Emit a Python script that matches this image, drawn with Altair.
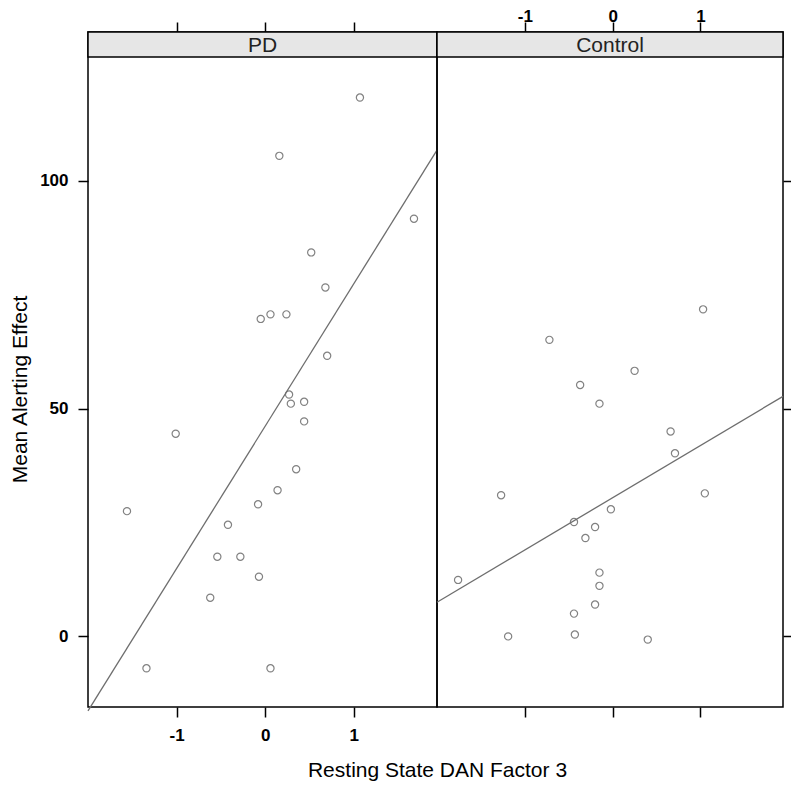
import altair as alt
import pandas as pd

# ---- data ----
pd_x = [1.07, 0.16, 1.68, 0.52, 0.68, -0.05, 0.06, 0.24, 0.70, 0.27, 0.29, 0.44, 0.44,
        -1.01, 0.35, -1.56, 0.14, -0.08, -0.42, -0.54, -0.28, -0.07, -0.62, -1.34, 0.06]
pd_y = [118.3, 105.5, 91.7, 84.3, 76.6, 69.7, 70.7, 70.7, 61.6, 53.1, 51.1, 51.5, 47.2,
        44.5, 36.7, 27.5, 32.1, 29.0, 24.5, 17.5, 17.5, 13.1, 8.5, -7.0, -7.0]

ctrl_x = [1.03, -0.72, 0.25, -0.37, -0.15, 0.66, 0.71, -1.27, 1.05, -0.02, -0.44,
          -0.20, -0.31, -1.76, -0.15, -0.15, -0.20, -0.44, -1.19, -0.43, 0.40]
ctrl_y = [71.8, 65.1, 58.3, 55.2, 51.1, 45.0, 40.2, 31.0, 31.4, 27.9, 25.1,
          24.0, 21.6, 12.4, 14.0, 11.1, 7.0, 5.0, 0.0, 0.4, -0.7]

panels = ["PD", "Control"]
x_ticks = [-1, 0, 1]
y_ticks = [0, 50, 100]
x_title = "Resting State DAN Factor 3"
y_title = "Mean Alerting Effect"

X_DOMAIN = [-2.0, 1.94]
Y_LOW, Y_HIGH = -15.5, 127.2

FONT = "Liberation Sans"
STRIP_H = 25
PANEL_H = 650
PLOT_H = PANEL_H + STRIP_H  # strip sits inside the top of each cell
PANEL_W = [349, 346]
# extend the y domain upward so that the strip band sits above the data area
Y_TOP = Y_HIGH + (Y_HIGH - Y_LOW) * STRIP_H / PANEL_H

df_pd = pd.DataFrame({"x": pd_x, "y": pd_y})
df_ctrl = pd.DataFrame({"x": ctrl_x, "y": ctrl_y})

xscale = alt.Scale(domain=X_DOMAIN, nice=False, zero=False)
yscale = alt.Scale(domain=[Y_LOW, Y_TOP], nice=False, zero=False)

tick_common = dict(grid=False, domain=False, tickColor="black", tickWidth=1.5,
                   tickSize=10, labelFont=FONT, labelFontSize=17,
                   labelFontWeight="bold", labelColor="black",
                   labelExpr="'' + datum.value")


def x_axis(orient, labels, **kw):
    return alt.Axis(orient=orient, values=x_ticks, labels=labels,
                    labelPadding=-3 if orient == "top" else 10, **tick_common, **kw)


def y_axis(orient, labels, **kw):
    return alt.Axis(orient=orient, values=y_ticks, labels=labels,
                    labelPadding=10, **tick_common, **kw)


def panel(df, name, w, first):
    if first:
        xa_pts = x_axis("bottom", True, title=x_title, titleX=w, titleY=63,
                        titleAlign="center", titleBaseline="middle",
                        titleFont=FONT, titleFontSize=21, titleFontWeight="normal",
                        titleColor="black")
        ya = y_axis("left", True, title=y_title, titleX=-68, titleY=357,
                    titleAngle=270, titleAlign="center", titleBaseline="middle",
                    titleFont=FONT, titleFontSize=21, titleFontWeight="normal",
                    titleColor="black")
        xa_line = x_axis("top", False, title=None)
    else:
        xa_pts = x_axis("top", True, title=None)
        ya = y_axis("right", False, title=None)
        xa_line = x_axis("bottom", False, title=None)

    base = alt.Chart(df)
    pts = base.mark_point(shape="circle", filled=False, size=52, color="#4d4d4d",
                          strokeWidth=1.2).encode(
        x=alt.X("x:Q", scale=xscale, axis=xa_pts),
        y=alt.Y("y:Q", scale=yscale, axis=ya),
    )
    line = base.transform_regression("x", "y", extent=X_DOMAIN).mark_line(
        color="#6e6e6e", strokeWidth=1.3).encode(
        x=alt.X("x:Q", scale=xscale, axis=xa_line),
        y=alt.Y("y:Q", scale=yscale, axis=ya),
    )
    strip_data = alt.Data(values=[{"label": name}])
    strip = alt.Chart(strip_data).mark_rect(fill="#e6e6e6", stroke="black",
                                            strokeWidth=1.5).encode(
        x=alt.value(0), x2=alt.value(w), y=alt.value(0), y2=alt.value(STRIP_H))
    strip_txt = alt.Chart(strip_data).mark_text(font=FONT, fontSize=21,
                                                color="#222222", baseline="middle",
                                                align="center").encode(
        x=alt.value(w / 2), y=alt.value(STRIP_H / 2 + 1), text="label:N")
    return alt.layer(pts, line, strip, strip_txt).properties(width=w, height=PLOT_H)


chart = alt.hconcat(
    panel(df_pd, panels[0], PANEL_W[0], True),
    panel(df_ctrl, panels[1], PANEL_W[1], False),
    spacing=0,
    bounds="flush",
).properties(
    padding={"left": 0, "top": -2, "right": -4, "bottom": 0},
    background="white",
).configure_view(stroke="black", strokeWidth=1.5)

chart.save("out.html", embed_options={"renderer": "svg", "actions": False})
